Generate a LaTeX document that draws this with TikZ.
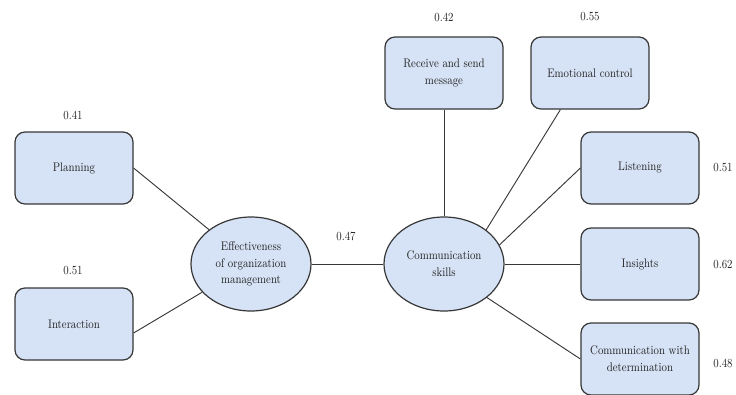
\documentclass[tikz,border=0pt]{standalone}
\usepackage{fontspec}
\setmainfont{Latin Modern Roman}[FakeStretch=0.85]
\usetikzlibrary{shapes.geometric}
\definecolor{boxfill}{RGB}{214,226,245}
\definecolor{edgecol}{RGB}{55,55,55}
\tikzset{
  txt/.style={font=\fontsize{9.3}{12.5}\selectfont, text=black!85},
  itembox/.style={txt, draw=edgecol, line width=0.9pt, fill=boxfill, rounded corners=7.5pt,
    minimum width=88.5pt, minimum height=54pt, align=center, inner sep=1pt},
  latent/.style={txt, ellipse, draw=edgecol, line width=0.9pt, fill=boxfill,
    minimum width=90pt, minimum height=70.5pt, align=center, inner sep=0pt},
  conn/.style={draw=edgecol, line width=0.7pt},
  val/.style={txt, inner sep=0pt}
}
\begin{document}
\begin{tikzpicture}[x=0.75pt,y=-0.75pt]
\useasboundingbox (0,0) rectangle (736,394);
% latent variables
\node[latent] (eff) at (251,264) {Effectiveness\\of organization\\management};
\node[latent] (comm) at (444,264) {Communication\\skills};
% indicators
\node[itembox] (plan) at (74,168) {Planning};
\node[itembox] (inter) at (74,324) {Interaction};
\node[itembox] (rec) at (444,73) {Receive and send\\message};
\node[itembox] (emo) at (590,73) {Emotional control};
\node[itembox] (list) at (640,168) {Listening};
\node[itembox] (ins) at (640,264) {Insights};
\node[itembox] (det) at (640,359) {Communication with\\determination};
% values
\node[val] (v1) at (73,115) {0.41};
\node[val] (v2) at (73,270) {0.51};
\node[val] (v3) at (444,17) {0.42};
\node[val] (v4) at (590,17) {0.55};
\node[val] (v5) at (346,236) {0.47};
\node[val] (v6) at (723,168) {0.51};
\node[val] (v7) at (723,265) {0.62};
\node[val] (v8) at (723,363) {0.48};
% connectors
\draw[conn] (plan.east) -- (eff);
\draw[conn] ([yshift=-6.75pt]inter.east) -- (eff.-150);
\draw[conn] (eff.east) -- (comm.west);
\draw[conn] (rec.south) -- (comm.north);
\draw[conn] ([xshift=22.5pt]emo.south west) -- (comm.39);
\draw[conn] (list.west) -- (comm.19);
\draw[conn] (comm.east) -- (ins.west);
\draw[conn] (comm.-38) -- (det.west);
\end{tikzpicture}
\end{document}
